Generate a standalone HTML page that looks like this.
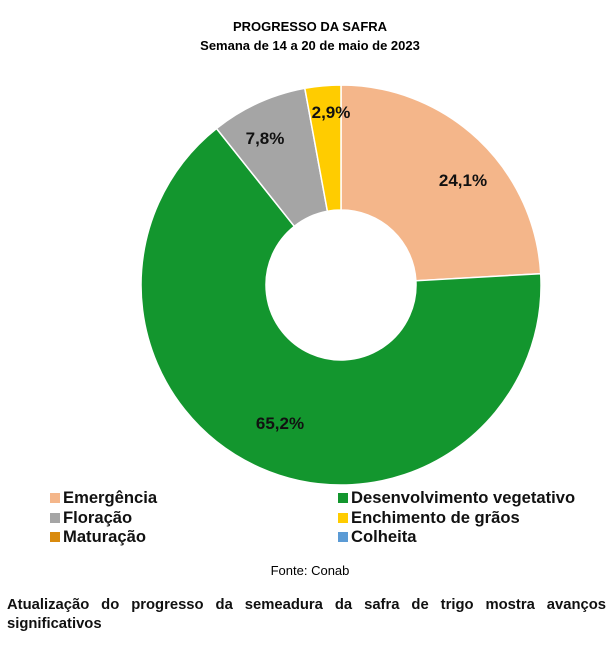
<!DOCTYPE html>
<html><head><meta charset="utf-8"><style>
body{margin:0;width:616px;height:645px;background:#fff;font-family:"Liberation Sans",Arial,sans-serif;position:relative;overflow:hidden}
.t{position:absolute;white-space:nowrap}
.lg{position:absolute;font-weight:bold;font-size:16.6px;color:#111;white-space:nowrap}
.sq{display:inline-block;width:10px;height:10px;margin-right:3px;vertical-align:0px}
.p1{position:absolute;left:7px;top:596px;width:599px;margin:0;font-weight:bold;font-size:14.8px;line-height:19px;text-align:justify;text-align-last:justify;color:#111;white-space:nowrap}
.p2{position:absolute;left:7px;top:615px;margin:0;font-weight:bold;font-size:14.8px;line-height:19px;color:#111}
</style></head><body>
<div class="t" style="left:0;width:620px;text-align:center;top:19px;font-weight:bold;font-size:13px">PROGRESSO DA SAFRA</div>
<div class="t" style="left:0;width:620px;text-align:center;top:38px;font-weight:bold;font-size:13px">Semana de 14 a 20 de maio de 2023</div>
<svg width="616" height="645" style="position:absolute;left:0;top:0">
<g stroke="#fff" stroke-width="1.5">
<path d="M341,85 A200,200 0 0 1 540.7,273.7 L415.9,280.8 A75,75 0 0 0 341,210 Z" fill="#F4B68A"/>
<path d="M540.7,273.7 A200,200 0 1 1 216.5,128.5 L294.3,226.3 A75,75 0 1 0 415.9,280.8 Z" fill="#13962E"/>
<path d="M216.5,128.5 A200,200 0 0 1 304.8,88.3 L327.4,211.2 A75,75 0 0 0 294.3,226.3 Z" fill="#A5A5A5"/>
<path d="M304.8,88.3 A200,200 0 0 1 341,85 L341,210 A75,75 0 0 0 327.4,211.2 Z" fill="#FFCC00"/>
</g>
<g font-family="Liberation Sans,Arial,sans-serif" font-weight="bold" font-size="17" fill="#111" text-anchor="middle">
<text x="463" y="186">24,1%</text>
<text x="265" y="144">7,8%</text>
<text x="331" y="118">2,9%</text>
<text x="280" y="429">65,2%</text>
</g>
</svg>
<div class="lg" style="left:50px;top:488px"><span class="sq" style="background:#F4B68A"></span>Emergência</div>
<div class="lg" style="left:50px;top:508px"><span class="sq" style="background:#A5A5A5"></span>Floração</div>
<div class="lg" style="left:50px;top:527px"><span class="sq" style="background:#D98A0D"></span>Maturação</div>
<div class="lg" style="left:338px;top:488px"><span class="sq" style="background:#13962E"></span>Desenvolvimento vegetativo</div>
<div class="lg" style="left:338px;top:508px"><span class="sq" style="background:#FFCC00"></span>Enchimento de grãos</div>
<div class="lg" style="left:338px;top:527px"><span class="sq" style="background:#5B9BD5"></span>Colheita</div>
<div class="t" style="left:0;width:620px;text-align:center;top:563px;font-size:13px">Fonte: Conab</div>
<div class="p1">Atualização do progresso da semeadura da safra de trigo mostra avanços</div>
<div class="p2">significativos</div>
</body></html>
